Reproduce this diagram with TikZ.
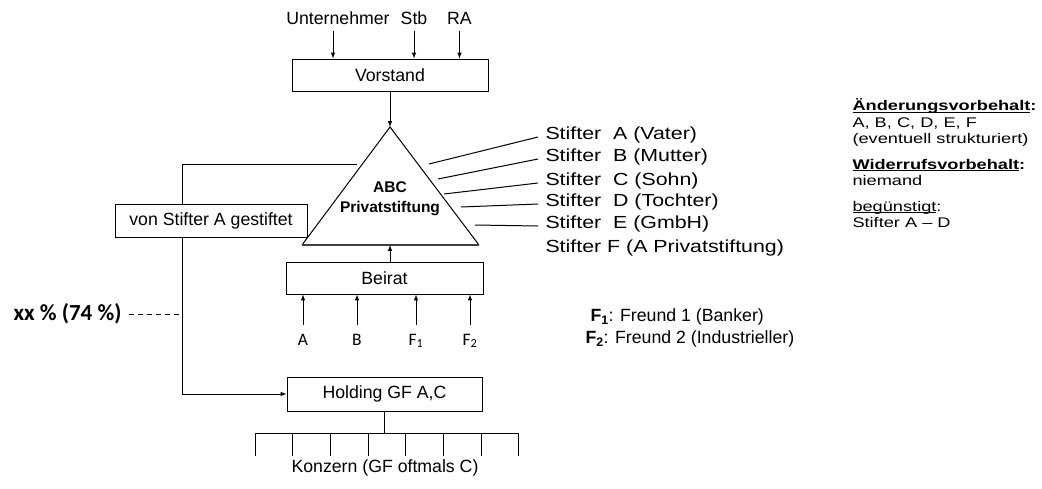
\documentclass[tikz,border=0pt]{standalone}
\usepackage{fontspec}
\setmainfont{Liberation Sans}
\newfontfamily\calfont{Carlito}
\newfontfamily\stifterfont[FakeStretch=1.22]{Liberation Sans}
\newfontfamily\notefont[FakeStretch=1.3]{Liberation Sans}
\newcommand{\unterstr}[1]{\underline{\smash{#1}}}
\begin{document}
\begin{tikzpicture}[>=latex, x=1pt, y=-1pt, line width=1pt,
  font=\fontsize{17.7}{21}\selectfont,
  box/.style={draw, fill=white, inner sep=0pt, minimum height=32pt},
  oben/.style={anchor=south, inner sep=0pt, inner ysep=6pt, text depth=0pt},
  unten/.style={anchor=north, inner sep=0pt, inner ysep=9pt, text height=10.7pt, font=\calfont\fontsize{17.5}{20}\selectfont},
  stifter/.style={anchor=west, inner sep=0pt, inner xsep=7pt, font=\stifterfont\fontsize{17.5}{20}\selectfont}]
\useasboundingbox (0,0) rectangle (1042,488);

% Vorstand
\node[box, minimum width=196pt] (vorstand) at (390,75) {Vorstand};
\node[oben] (unt) at (338,31) {Unternehmer};
\node[oben] (stb) at (414,31) {Stb};
\node[oben] (ra) at (459.5,31) {RA};
\draw[->] ([xshift=-5pt]unt.south) -- ([xshift=-5pt]unt.south |- vorstand.north);
\draw[->] (stb.south) -- (stb.south |- vorstand.north);
\draw[->] (ra.south) -- (ra.south |- vorstand.north);

% Stiftung
\coordinate (spitze) at (390,127);
\coordinate (links) at (302,245);
\coordinate (rechts) at (479,245);
\draw (links) -- (spitze) -- (rechts);
\draw[line width=1.8pt, black!75] (links) -- (rechts);
\node[align=center, font=\bfseries\fontsize{15.5}{20}\selectfont] (abc) at (390,199) {ABC\\Privatstiftung};
\draw[->] (vorstand) -- (spitze);

% Beirat
\node[box, minimum width=197pt] (beirat) at (384.5,278) {Beirat};
\draw[->] (beirat.north -| spitze) -- (links -| spitze);
\foreach \n/\xx/\t in {a/303/A, b/357/B, fa/416/F\textsubscript{1}, fb/470/F\textsubscript{2}} {
  \node[unten] (\n) at (\xx,325) {\t};
  \draw[->] (\n.north) -- (\n.north |- beirat.south);
}

% Stifter
\foreach \n/\yy/\t in {a/135/A (Vater), b/157/B (Mutter), c/181/C (Sohn), d/202/D (Tochter), e/224/E (GmbH)}
  \node[stifter] (st\n) at (538,\yy) {Stifter\ \ \t};
\node[stifter] (stf) at (538,248) {Stifter F (A Privatstiftung)};
\foreach \n/\xx/\yy in {a/429/164, b/438/179, c/444/194, d/461/207, e/475/225} {
  \coordinate (k\n) at (\xx,\yy);
  \draw (k\n) -- ([yshift=-2pt]st\n.west);
}

% links
\node[box, minimum width=192pt, minimum height=33pt] (gestiftet) at (211,220.5) {von Stifter A gestiftet};
\node[box, minimum width=195pt, minimum height=34pt] (holding) at (384.5,394) {Holding GF A,C};
\coordinate (ka) at (357,164);
\coordinate (kb) at (182,164);
\draw (ka) -- (kb) -- (kb |- gestiftet.north);
\draw[->] (kb |- gestiftet.south) |- (holding.west);
\node[font=\calfont\bfseries\fontsize{23}{26}\selectfont, anchor=east, inner sep=7pt] (anteil) at (129,314) {xx \% (74 \%)};
\draw[dash pattern=on 5pt off 4pt] (anteil.east) -- (anteil.east -| kb);

% Konzern
\coordinate (kzl) at (255,433);
\coordinate (kzr) at (519,433);
\draw (holding.south) -- (holding.south |- kzl);
\draw (kzl) -- (kzr);
\foreach \i in {0,...,7}
  \draw (255+37.71*\i,433) -- ++(0,23);
\node (konzern) at (385,468) {Konzern (GF oftmals C)};

% Freunde
\node[anchor=west, inner sep=0pt] (fna) at (590,317) {\textbf{F\textsubscript{1}}: Freund 1 (Banker)};
\node[anchor=west, inner sep=0pt] (fnb) at (585,339) {\textbf{F\textsubscript{2}}: Freund 2 (Industrieller)};

% Vorbehalte
\node[anchor=north west, inner sep=0pt, align=left, font=\notefont\fontsize{14}{16.5}\selectfont] (notiz) at (852,103)
  {\textbf{\unterstr{Änderungsvorbehalt}:}\\A, B, C, D, E, F\\(eventuell strukturiert)\\[9pt]
   \textbf{\unterstr{Widerrufsvorbehalt}:}\\niemand\\[9pt]
   \unterstr{begünstigt}:\\Stifter A – D};
\end{tikzpicture}
\end{document}
